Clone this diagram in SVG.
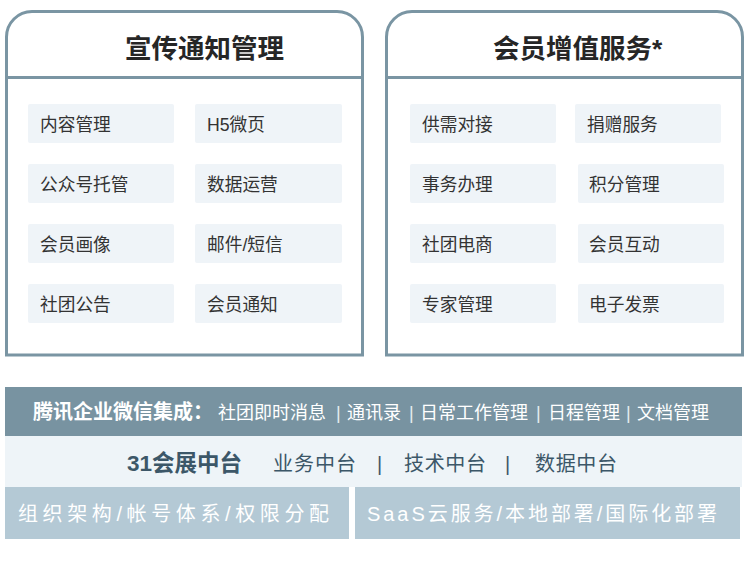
<svg xmlns="http://www.w3.org/2000/svg" width="750" height="570" viewBox="0 0 750 570">
<style>
text{font-family:"Liberation Sans","Noto Sans CJK SC",sans-serif}
.panel{fill:#fff;stroke:#7a95a3;stroke-width:3}
.div{stroke:#7a95a3;stroke-width:3}
.title{font-size:26.5px;font-weight:700;fill:#262626}
.cell{fill:#eff4f8}
.ct{font-size:17.7px;fill:#333}
.b1{fill:#7893a1}
.b2{fill:#eef4f8}
.b3{fill:#b4c9d5}
.w{fill:#fff}
.sep{fill:#e4ecf0}
.s{fill:#3c5768}
</style>
<rect width="750" height="570" fill="#fff"/>
<g id="panel-left">
<path class="panel" d="M6.5,355 V37 A25.5,25.5 0 0 1 32,11.5 H337 A25.5,25.5 0 0 1 362.5,37 V355 Z"/>
<line class="div" x1="6.5" y1="77.5" x2="362.5" y2="77.5"/>
<text class="title" x="125" y="58">宣传通知管理</text>
</g>
<g id="left-cells">
<g id="c-neirong"><rect class="cell" x="28" y="104" width="146" height="39" rx="2"/><text class="ct" x="40" y="130.6">内容管理</text></g>
<g id="c-h5"><rect class="cell" x="195" y="104" width="147" height="39" rx="2"/><text class="ct" x="207" y="130.6">H5微页</text></g>
<g id="c-gzh"><rect class="cell" x="28" y="164" width="146" height="39" rx="2"/><text class="ct" x="40" y="190.6">公众号托管</text></g>
<g id="c-sjyy"><rect class="cell" x="195" y="164" width="147" height="39" rx="2"/><text class="ct" x="207" y="190.6">数据运营</text></g>
<g id="c-hyhx"><rect class="cell" x="28" y="224" width="146" height="39" rx="2"/><text class="ct" x="40" y="250.6">会员画像</text></g>
<g id="c-yj"><rect class="cell" x="195" y="224" width="147" height="39" rx="2"/><text class="ct" x="207" y="250.6">邮件/短信</text></g>
<g id="c-stgg"><rect class="cell" x="28" y="284" width="146" height="39" rx="2"/><text class="ct" x="40" y="310.6">社团公告</text></g>
<g id="c-hytz"><rect class="cell" x="195" y="284" width="147" height="39" rx="2"/><text class="ct" x="207" y="310.6">会员通知</text></g>
</g>
<g id="panel-right">
<path class="panel" d="M386.5,355 V37 A25.5,25.5 0 0 1 412,11.5 H717 A25.5,25.5 0 0 1 742.5,37 V355 Z"/>
<line class="div" x1="386.5" y1="77.5" x2="742.5" y2="77.5"/>
<text class="title" x="493" y="58">会员增值服务*</text>
</g>
<g id="right-cells">
<g id="c-gxdj"><rect class="cell" x="410" y="104" width="146" height="39" rx="2"/><text class="ct" x="422" y="130.6">供需对接</text></g>
<g id="c-jzfw"><rect class="cell" x="575" y="104" width="146" height="39" rx="2"/><text class="ct" x="587" y="130.6">捐赠服务</text></g>
<g id="c-swbl"><rect class="cell" x="410" y="164" width="146" height="39" rx="2"/><text class="ct" x="422" y="190.6">事务办理</text></g>
<g id="c-jfgl"><rect class="cell" x="578" y="164" width="146" height="39" rx="2"/><text class="ct" x="589" y="190.6">积分管理</text></g>
<g id="c-stds"><rect class="cell" x="410" y="224" width="146" height="39" rx="2"/><text class="ct" x="422" y="250.6">社团电商</text></g>
<g id="c-hyhd"><rect class="cell" x="578" y="224" width="146" height="39" rx="2"/><text class="ct" x="589" y="250.6">会员互动</text></g>
<g id="c-zjgl"><rect class="cell" x="410" y="284" width="146" height="39" rx="2"/><text class="ct" x="422" y="310.6">专家管理</text></g>
<g id="c-dzfp"><rect class="cell" x="578" y="284" width="146" height="39" rx="2"/><text class="ct" x="589" y="310.6">电子发票</text></g>
</g>
<g id="band-wecom">
<rect class="b1" x="5" y="387" width="737" height="49"/>
<text class="w" x="33" y="419" font-size="20" font-weight="600">腾讯企业微信集成：</text>
<text class="w" y="418.5" font-size="18"><tspan x="218">社团即时消息</tspan><tspan class="sep" x="336">|</tspan><tspan x="347">通讯录</tspan><tspan class="sep" x="409">|</tspan><tspan x="420">日常工作管理</tspan><tspan class="sep" x="536">|</tspan><tspan x="548">日程管理</tspan><tspan class="sep" x="626">|</tspan><tspan x="637">文档管理</tspan></text>
</g>
<g id="band-platform">
<rect class="b2" x="5" y="436" width="737" height="51"/>
<text class="s" x="127" y="471" font-size="22.5" font-weight="700">31会展中台</text>
<text class="s" y="470.5" font-size="20"><tspan x="273" textLength="83">业务中台</tspan><tspan x="377">|</tspan><tspan x="404" textLength="82">技术中台</tspan><tspan x="505">|</tspan><tspan x="535" textLength="82">数据中台</tspan></text>
</g>
<g id="band-org">
<rect class="b3" x="5" y="487" width="344" height="52"/>
<text class="w" x="18" y="520.5" font-size="20" textLength="311" lengthAdjust="spacing">组织架构/帐号体系/权限分配</text>
</g>
<g id="band-deploy">
<rect class="b3" x="355" y="487" width="385" height="52"/>
<text class="w" x="367" y="520.5" font-size="20" textLength="350" lengthAdjust="spacing">SaaS云服务/本地部署/国际化部署</text>
</g>
</svg>
